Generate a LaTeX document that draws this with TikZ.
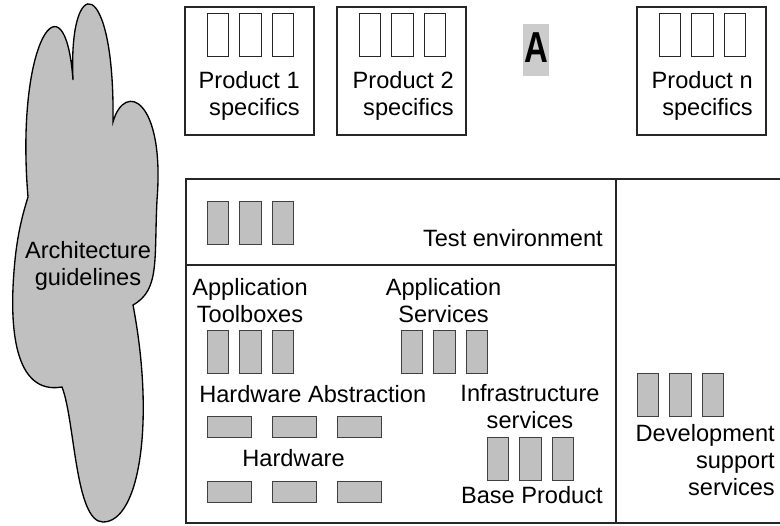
\documentclass[tikz,border=0pt]{standalone}
\usepackage{fontspec}
\setmainfont{Liberation Sans}[BoldFont={Liberation Sans Bold}]
\usepackage{graphicx}
\usetikzlibrary{math}
\definecolor{slotgray}{RGB}{192,192,192}
\definecolor{taggray}{RGB}{204,204,204}
\begin{document}
\begin{tikzpicture}[x=0.75pt,y=-0.75pt,
  lbl/.style={inner sep=0pt, font=\fontsize{17.7}{20}\selectfont},
  frame/.style={draw=black!85, line width=0.8pt},
  slot/.style={draw=black!85, fill=white, line width=0.75pt},
  gslot/.style={draw=black!75, fill=slotgray, line width=0.75pt}]
\tikzmath{
\pw=129;
\ph=128;
\sw=21.5;
\sh=43;
\sg=32.5;
}
\useasboundingbox (0,0) rectangle (780,525);
%cloud
\draw[fill=slotgray, line width=1pt] (28,197)
  .. controls (15,40) and (65,-30) .. (73,80)
  .. controls (68,-30) and (115,-25) .. (113,122)
  .. controls (125,80) and (165,100) .. (157,200)
  .. controls (154,260) and (160,290) .. (133,305)
  .. controls (155,420) and (140,522) .. (103,522)
  .. controls (75,522) and (75,420) .. (62,387)
  .. controls (15,395) and (8,330) .. (15,260)
  .. controls (18,230) and (24,210) .. (28,197) -- cycle;
\node[lbl, align=center, anchor=base] (guide) at (88,285) {Architecture\\guidelines};
%product boxes
\draw[frame] (185,7) rectangle +(\pw,\ph);
\draw[frame] (337,7) rectangle +(\pw,\ph);
\draw[frame] (637,7) rectangle +(\pw,\ph);
\foreach \x in {185,337,637}
  \foreach \i in {0,1,2}
    \draw[slot] (\x+22+\i*\sg,13) rectangle +(\sw,\sh);
\node[lbl, align=right, anchor=base east] (prod1) at (300,115) {Product 1\\specifics};
\node[lbl, align=right, anchor=base east] (prod2) at (454,115) {Product 2\\specifics};
\node[lbl, align=right, anchor=base east] (prodn) at (753,115) {Product n\\specifics};
%tag
\fill[taggray] (523,24) rectangle (549,76);
\node[inner sep=0pt, font=\bfseries\fontsize{26}{26}\selectfont] (tagA) at (536,47.5) {\scalebox{0.95}[1.25]{A}};
%base box
\draw[frame] (780,179) -- (186,179) -- (186,523) -- (780,523);
\draw[frame] (616,179) -- (616,523);
\draw[frame] (186,265) -- (616,265);
%test environment
\foreach \i in {0,1,2}
  \draw[gslot] (207+\i*\sg,201) rectangle +(\sw,\sh);
\node[lbl, anchor=base east] (test) at (603,246) {Test environment};
%application toolboxes and services
\node[lbl, align=center, anchor=base] (apptool) at (250,322) {Application\\Toolboxes};
\node[lbl, align=center, anchor=base] (appserv) at (443.5,322) {Application\\Services};
\foreach \i in {0,1,2} {
  \draw[gslot] (207+\i*\sg,330) rectangle +(\sw,\sh);
  \draw[gslot] (401+\i*\sg,330) rectangle +(\sw,\sh);
}
%hardware
\node[lbl, anchor=base west] (hwabs) at (199,402) {Hardware Abstraction};
\node[lbl, anchor=base] (hw) at (293.5,466) {Hardware};
\foreach \i in {0,1,2} {
  \draw[gslot] (207+\i*65,416) rectangle +(44,21);
  \draw[gslot] (207+\i*65,481) rectangle +(44,21);
}
%infrastructure
\node[lbl, align=center, anchor=base] (infra) at (530,428) {Infrastructure\\services};
\foreach \i in {0,1,2}
  \draw[gslot] (487+\i*\sg,437) rectangle +(\sw,\sh);
\node[lbl, anchor=base east] (base) at (603,503) {Base Product};
%development support
\foreach \i in {0,1,2}
  \draw[gslot] (637+\i*\sg,373) rectangle +(\sw,\sh);
\node[lbl, align=right, anchor=base east] (dev) at (775,495) {Development\\support\\services};
\end{tikzpicture}
\end{document}
